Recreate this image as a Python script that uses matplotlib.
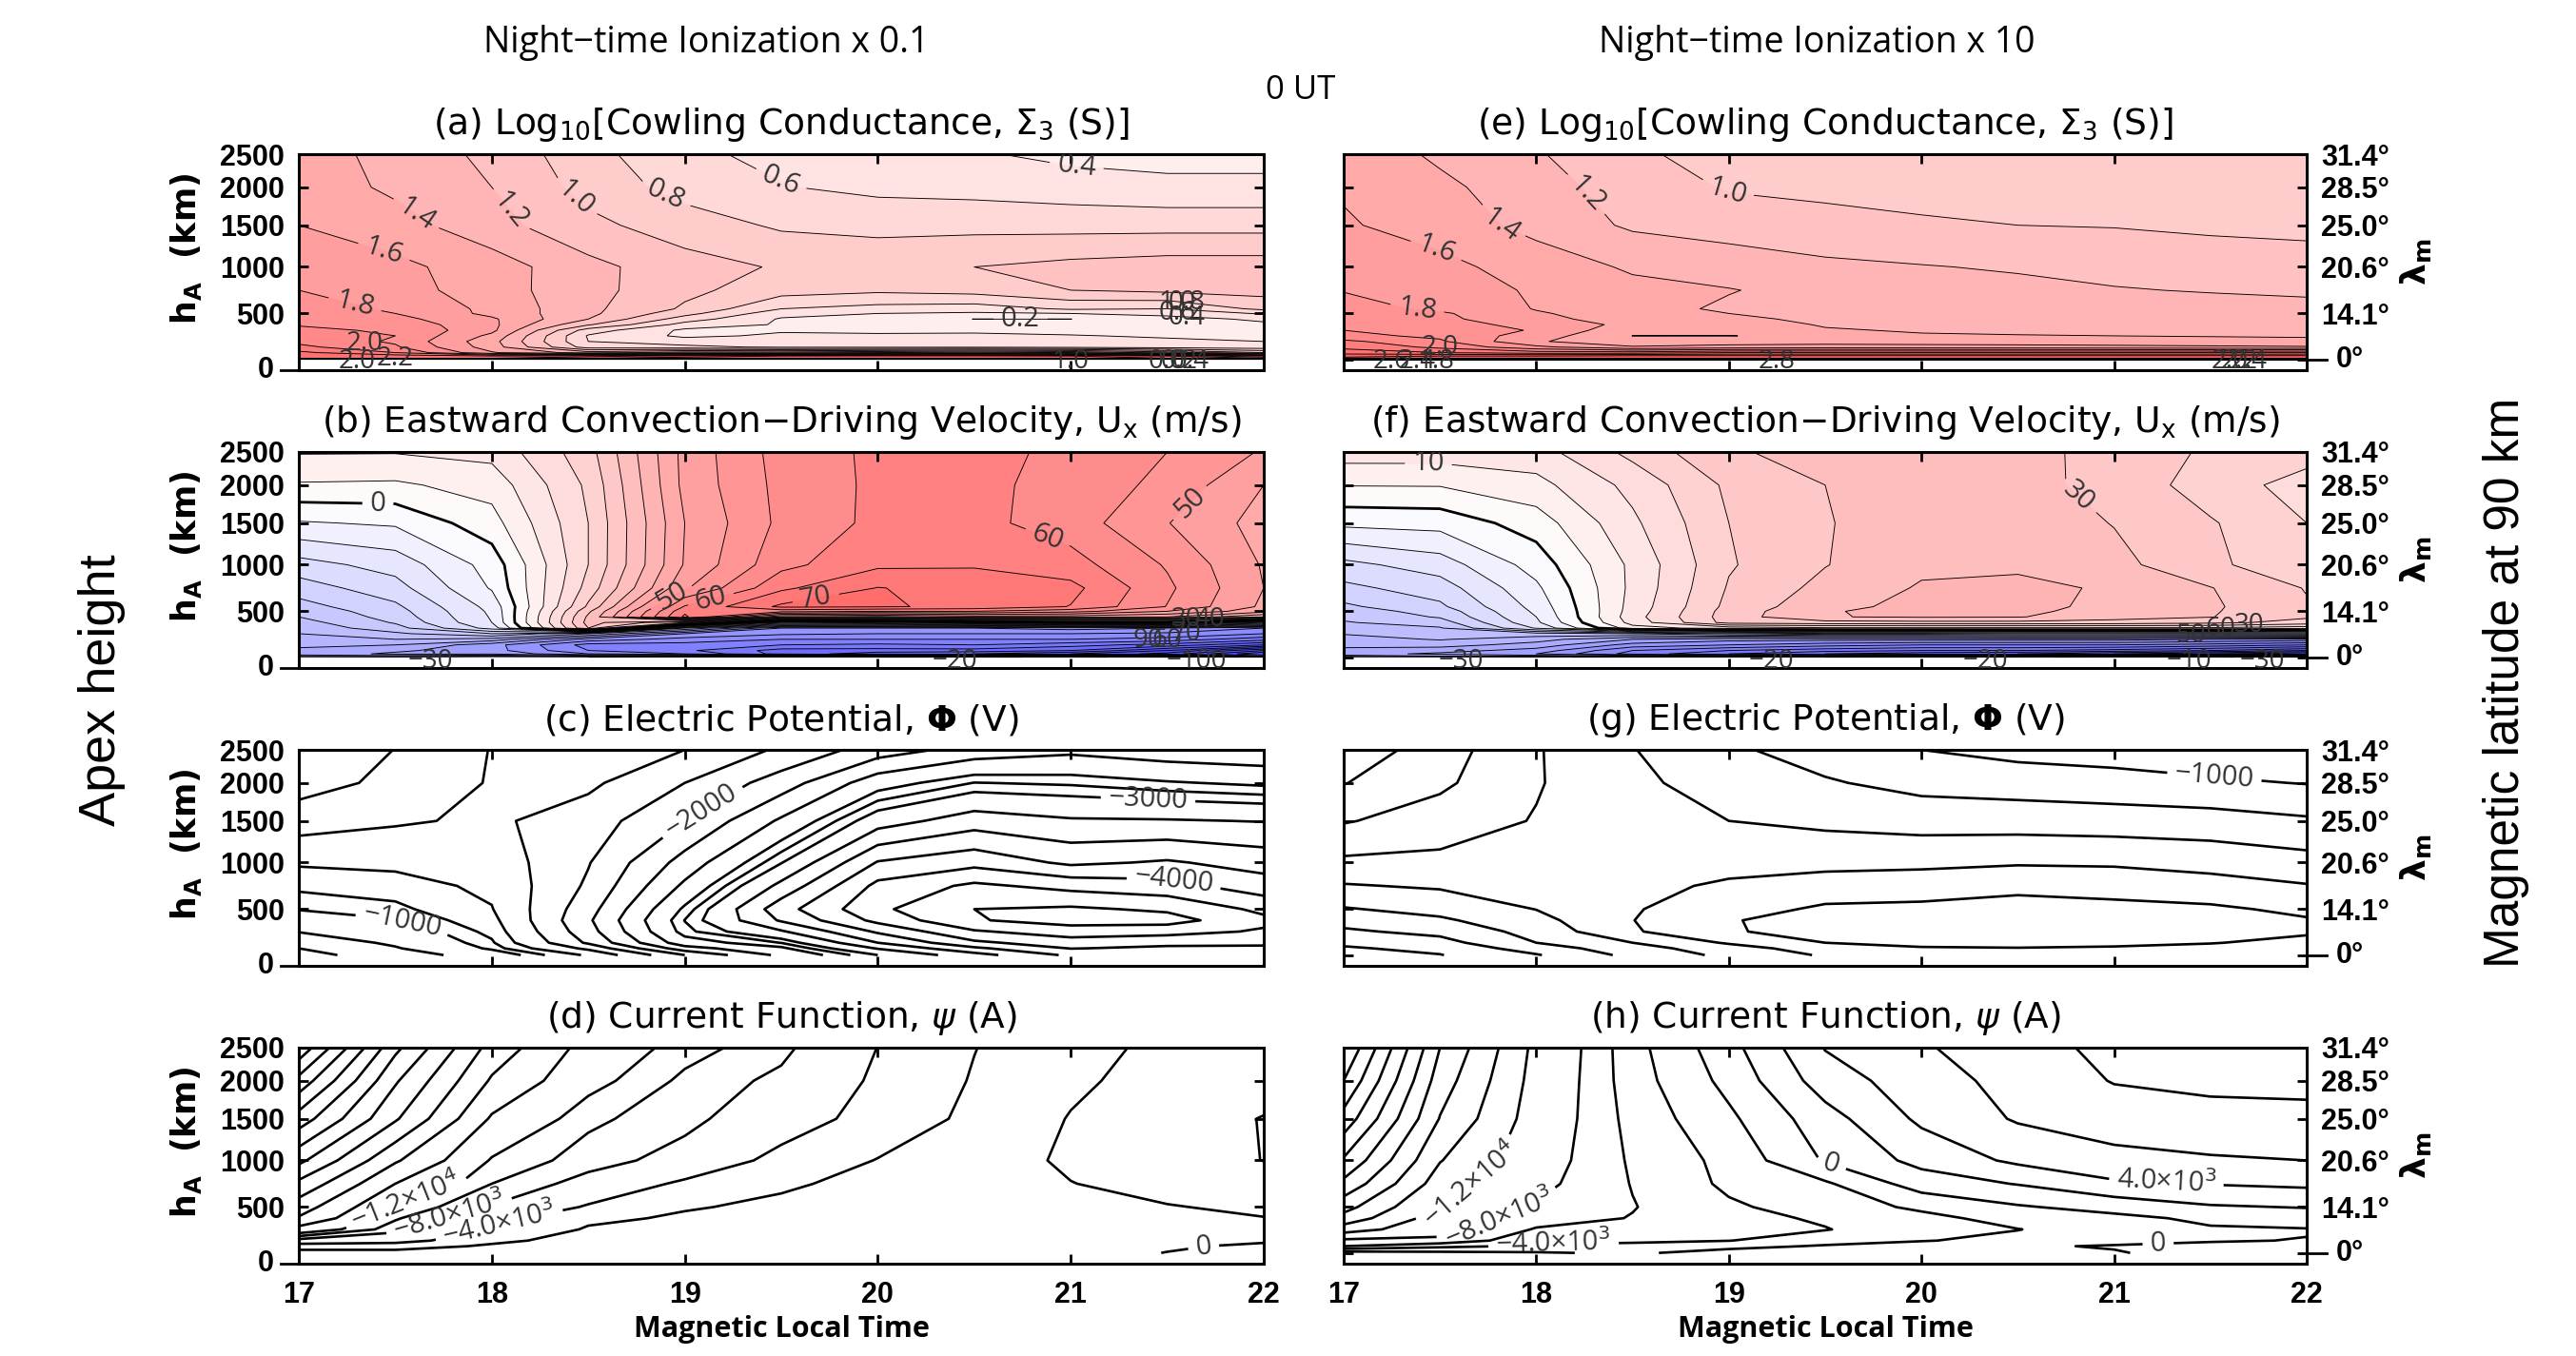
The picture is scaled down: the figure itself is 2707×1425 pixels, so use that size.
import numpy as np
import matplotlib
matplotlib.use('Agg')
import matplotlib.pyplot as plt
from matplotlib.colors import LinearSegmentedColormap

plt.rcParams['font.family'] = ['Open Sans', 'DejaVu Sans']
plt.rcParams['mathtext.fontset'] = 'dejavusans'

# model grid
mlt = [17, 17.5, 18, 18.5, 19, 19.5, 20, 20.5, 21, 21.5, 22]
hgt_fine = [90, 100, 120, 150, 200, 250, 300, 350, 400, 450, 500, 550, 750, 1000, 1500, 2000, 2500]
hgt_coarse = [90, 150, 200, 300, 400, 500, 750, 1000, 1500, 2000, 2500]

# height ticks and where they sit on the axis (0-1 from the bottom)
height_ticks = [0, 90, 500, 1000, 1500, 2000, 2500]
height_frac = [0, 0.05, 0.2625, 0.478, 0.671, 0.847, 1]
lat_labels = ['14.1°', '20.6°', '25.0°', '28.5°', '31.4°']

# (a) log10 cowling conductance, ionization x 0.1
sigma_low = [
    [.2, .2, .2, .2, .2, .2, .2, .2, .2, .2, .2],
    [2.6, 2.6, 2.6, 2.8, 2.9, 2.9, 2.9, 2.9, 2.9, 2.8, 2.6],
    [2.6, 2.5, 2.4, 2.5, 2.7, 2.8, 2.85, 2.85, 2.8, 2.6, 2.2],
    [2.45, 2.2, 1.62, 1.3, 1.5, 1.5, 1.6, 1.7, 1.6, 1.3, 1.0],
    [2.25, 2.03, 1.5, .7, .65, .57, .56, .56, .54, .5, .47],
    [2.15, 1.97, 1.47, .6, .5, .46, .46, .47, .46, .43, .4],
    [2.1, 2.0, 1.55, .58, .36, .43, .43, .43, .41, .38, .33],
    [2.03, 1.98, 1.65, .7, .36, .38, .36, .37, .35, .33, .32],
    [1.99, 1.93, 1.65, 1.02, .52, .38, .3, .3, .28, .28, .35],
    [1.95, 1.86, 1.63, 1.2, .7, .38, .25, .199, .199, .3, .45],
    [1.92, 1.8, 1.55, 1.25, .87, .47, .4, .37, .4, .48, .62],
    [1.89, 1.77, 1.55, 1.25, .97, .6, .53, .5, .63, .6, .85],
    [1.8, 1.69, 1.49, 1.27, 1.05, .89, .84, .88, 1.0, 1.05, 1.08],
    [1.72, 1.65, 1.5, 1.26, 1.08, .98, .94, 1.0, 1.06, 1.1, 1.1],
    [1.6, 1.48, 1.27, 1.05, .9, .77, .74, .74, .73, .73, .73],
    [1.52, 1.36, 1.2, .93, .72, .61, .55, .53, .49, .45, .45],
    [1.5, 1.33, 1.15, .87, .64, .55, .47, .42, .35, .33, .33],
]

# (e) log10 cowling conductance, ionization x 10
sigma_high = [
    [.4, .4, .4, .4, .4, .4, .4, .4, .4, .4, .4],
    [2.85, 2.85, 2.85, 2.85, 2.85, 2.85, 2.85, 2.85, 2.85, 2.85, 2.85],
    [2.75, 2.8, 2.8, 2.85, 2.85, 2.85, 2.85, 2.85, 2.85, 2.85, 2.85],
    [2.5, 2.4, 2.3, 2.3, 2.4, 2.4, 2.4, 2.4, 2.4, 2.4, 2.4],
    [2.35, 2.15, 1.85, 1.62, 1.68, 1.7, 1.69, 1.68, 1.66, 1.64, 1.62],
    [2.25, 2.03, 1.62, 1.47, 1.48, 1.5, 1.49, 1.48, 1.47, 1.46, 1.45],
    [2.05, 1.96, 1.7, 1.398, 1.398, 1.42, 1.41, 1.405, 1.4, 1.39, 1.38],
    [2.0, 1.93, 1.78, 1.45, 1.44, 1.41, 1.39, 1.38, 1.37, 1.36, 1.35],
    [1.97, 1.9, 1.72, 1.55, 1.46, 1.39, 1.36, 1.35, 1.34, 1.33, 1.32],
    [1.95, 1.85, 1.65, 1.52, 1.43, 1.37, 1.34, 1.33, 1.32, 1.31, 1.3],
    [1.9, 1.83, 1.62, 1.5, 1.4, 1.35, 1.32, 1.31, 1.3, 1.28, 1.27],
    [1.88, 1.76, 1.59, 1.47, 1.37, 1.33, 1.31, 1.29, 1.27, 1.26, 1.25],
    [1.79, 1.72, 1.57, 1.46, 1.41, 1.33, 1.28, 1.25, 1.21, 1.19, 1.17],
    [1.73, 1.65, 1.52, 1.37, 1.3, 1.24, 1.21, 1.18, 1.15, 1.12, 1.1],
    [1.62, 1.52, 1.33, 1.17, 1.12, 1.07, 1.03, 1.0, .99, .96, .94],
    [1.58, 1.45, 1.27, 1.12, .98, .95, .92, .9, .88, .87, .86],
    [1.55, 1.36, 1.22, 1.03, .93, .9, .88, .87, .86, .85, .85],
]

# (b) eastward velocity, one list per mlt column
ux_low = np.array([
    [-25, -38, -42, -41, -39, -37, -35, -33.5, -32, -30, -28.5, -27, -22.5, -17, -5.5, 4.5, 10.4],
    [-28, -38, -46, -44, -40, -35, -31, -27, -24.5, -23, -22, -21, -17, -13, -4.3, 4.2, 10.3],
    [-25, -35, -46, -48, -48, -37, -25, -13, -10, -9.5, -9, -8.3, -4.5, -3, 3, 7, 11.6],
    [-25, -40, -55, -60, -62, -52, -35, 30, 32, 31, 29, 26, 22, 20, 20, 21, 23],
    [-22, -40, -60, -64, -62, -57, -50, -30, 20, 66, 64, 60.5, 49.3, 45.5, 45, 46.5, 46.7],
    [-20, -45, -72, -72, -65, -60, -54, -50, -15, 40, 62, 71, 64, 58.5, 56.2, 56.5, 57],
    [-20, -50, -78, -72, -66, -60, -55, -50, -12, 38, 60, 70.5, 70.2, 64, 61.2, 61, 61],
    [-18, -50, -80, -72, -65, -60, -55, -50, -5, 42, 60, 69, 68, 64.5, 61.5, 61.3, 62],
    [-22, -55, -85, -75, -68, -60, -55, -48, 0, 42, 57, 64.8, 66.5, 62, 57.5, 58.2, 58.5],
    [-30, -70, -92, -85, -72, -62, -56, -50, 0, 40, 50, 54.8, 56, 54.5, 50.2, 53.6, 55],
    [-50, -100, -110, -100, -80, -68, -60, -55, -20, 30, 42, 44, 45, 44.5, 43, 45, 49.5],
]).T

# (f) eastward velocity, one list per mlt column
ux_high = np.array([
    [-25, -38, -43, -41, -39, -37, -34.7, -32.5, -30.4, -29, -27.5, -26, -21.3, -16.5, -3.8, 5.2, 12.5],
    [-25, -40, -46, -43, -38, -34.6, -32.5, -30.5, -27.5, -24.5, -23, -21, -17.5, -12.5, -3.2, 5.3, 12.5],
    [-28, -42, -50, -47, -42, -38, -32, -14.5, -11, -10, -9, -8.3, -6, -2.9, 2.4, 8.4, 13],
    [-20, -45, -62, -60, -52, -45, -30, 8, 12, 13, 12.3, 12, 11.3, 11.2, 14, 16.5, 21.5],
    [-20, -50, -70, -65, -55, -48, -25, 12, 27, 27.5, 27.2, 26.5, 25.5, 24.5, 25, 26, 29.5],
    [-20, -55, -75, -68, -58, -48, -22, 14, 28, 34.8, 34.6, 33.5, 31.5, 29.8, 29.6, 30, 31.5],
    [-18, -55, -78, -70, -60, -48, -22, 14, 28.5, 35.5, 36.5, 36.5, 35.5, 34, 33.5, 32, 33],
    [-18, -55, -80, -70, -60, -48, -20, 14, 28.5, 35.3, 36.2, 37, 36, 34.3, 33, 31.5, 32],
    [-10, -55, -85, -72, -60, -48, -20, 14, 28, 32, 33, 33.3, 34.5, 31.5, 29.8, 28.5, 27.9],
    [-10, -60, -90, -75, -62, -50, -20, 14, 26.5, 30.2, 30.5, 30.8, 30.2, 26.2, 25.5, 22.5, 24.3],
    [-30, -70, -95, -80, -65, -52, -20, 12, 23, 25.7, 26, 25.5, 24.7, 21, 20, 18, 22],
]).T

# (c) electric potential, one list per mlt column
phi_low = np.array([
    [-420, -500, -600, -760, -890, -1010, -1130, -1275, -1625, -1850, -1950],
    [-620, -730, -790, -880, -990, -1065, -1170, -1300, -1530, -1690, -1745],
    [-880, -1030, -1080, -1140, -1190, -1240, -1295, -1355, -1460, -1480, -1490],
    [-1280, -1560, -1790, -1900, -1960, -1900, -1790, -1735, -1620, -1450, -1290],
    [-2000, -2400, -2650, -2830, -2880, -2790, -2550, -2350, -2000, -1750, -1500],
    [-2560, -2710, -2880, -3220, -3530, -3650, -3320, -2990, -2540, -2120, -1790],
    [-3000, -3270, -3500, -3790, -4070, -4200, -4070, -3770, -3130, -2650, -2120],
    [-3400, -3700, -3950, -4220, -4480, -4500, -4300, -3920, -3380, -2880, -2350],
    [-3800, -4010, -4130, -4380, -4600, -4540, -4170, -3700, -3280, -2850, -2440],
    [-3800, -3950, -4070, -4340, -4600, -4460, -4090, -3780, -3270, -2770, -2350],
    [-3800, -3960, -4040, -4220, -4310, -4190, -3860, -3650, -3240, -2710, -2300],
]).T
phi_low_levels = [-4500, -4250, -4000, -3750, -3500, -3250, -3000, -2875, -2750, -2500, -2250, -2000,
                  -1750, -1500, -1250, -1100, -1000, -750, -500]

# (g) electric potential, one list per mlt column
phi_high = np.array([
    [-650, -720, -800, -960, -1090, -1230, -1480, -1700, -2020, -2260, -2420],
    [-740, -820, -910, -1070, -1210, -1330, -1530, -1690, -1880, -2050, -2120],
    [-980, -1120, -1250, -1340, -1420, -1505, -1565, -1625, -1735, -1770, -1770],
    [-1320, -1400, -1500, -1720, -1745, -1730, -1680, -1630, -1600, -1550, -1510],
    [-1560, -1640, -1780, -1985, -1985, -1900, -1790, -1660, -1500, -1395, -1290],
    [-1780, -1880, -2000, -2060, -2090, -2040, -1860, -1680, -1445, -1275, -1140],
    [-1860, -1980, -2060, -2110, -2110, -2050, -1895, -1690, -1400, -1170, -1000],
    [-1900, -1990, -2080, -2240, -2230, -2090, -1940, -1725, -1390, -1135, -920],
    [-1890, -1980, -2040, -2130, -2120, -2060, -1915, -1715, -1370, -1100, -880],
    [-1860, -1940, -2010, -2090, -2090, -2040, -1850, -1660, -1355, -1040, -830],
    [-1810, -1880, -1940, -2030, -2020, -1950, -1765, -1590, -1285, -990, -780],
]).T
phi_high_levels = [-2250, -2000, -1750, -1500, -1250, -1000, -750]

# (d) current function, one list per mlt column
psi_low = np.array([
    [1500, -1800, -7000, -14500, -19600, -22000, -27000, -33000, -42200, -50700, -59000],
    [1000, -1200, -6000, -8800, -10300, -11800, -16000, -20500, -28500, -32500, -37000],
    [1200, 400, -600, -3700, -5500, -7800, -10000, -11700, -15500, -19500, -22500],
    [1500, 1200, 1000, 400, -800, -3600, -7000, -9000, -10500, -13000, -14500],
    [1500, 1400, 1300, 1000, 500, -300, -3300, -7000, -8700, -9500, -10900],
    [1700, 1600, 1500, 1300, 1000, 700, -500, -2800, -6000, -7400, -8700],
    [1900, 1900, 1900, 1800, 1600, 1400, 1000, 150, -2500, -3400, -3950],
    [2300, 2300, 2300, 2300, 2300, 2300, 2200, 1800, 900, 300, -100],
    [1500, 2000, 2500, 3000, 3200, 3400, 3900, 4700, 4200, 3300, 2850],
    [-100, 500, 1400, 2500, 3300, 3800, 5400, 6700, 6800, 5500, 4800],
    [-1500, -700, 500, 2500, 3900, 4700, 6200, 8050, 8100, 7000, 6300],
]).T
psi_low_levels = [-56000, -52000, -48000, -44000, -40000, -36000, -32000, -28000, -24000, -20000, -16000,
                  -12000, -10000, -8000, -4000, 0, 4000, 8000]

# (h) current function, one list per mlt column
psi_high = np.array([
    [-1000, -6000, -7200, -14000, -18500, -21500, -27000, -31500, -38500, -44000, -48000],
    [-1500, -4500, -7500, -9000, -10000, -11200, -14000, -16200, -19800, -22000, -24000],
    [-1800, -3700, -4600, -5800, -7000, -7800, -8700, -9300, -10000, -10500, -10900],
    [-2300, -3400, -4400, -4800, -5900, -6100, -5900, -5700, -5300, -4900, -4700],
    [-1200, -2600, -4050, -4600, -4700, -4300, -3600, -3400, -2400, -1400, -700],
    [-700, -1800, -2800, -4100, -3700, -3100, -2300, 200, 1200, 3000, 4100],
    [-500, -1200, -2100, -2700, -2600, -1600, 1000, 2600, 4400, 5100, 5800],
    [-300, -150, -1500, -2050, -1200, -200, 2100, 4400, 6200, 6700, 7100],
    [-100, 100, -400, -1000, -500, 700, 3700, 5400, 7000, 8100, 8600],
    [500, 300, -100, -200, 400, 1800, 4100, 5800, 7300, 8500, 9500],
    [900, 700, 50, -100, 1000, 2100, 4400, 6000, 7400, 8600, 9500],
]).T
psi_high_levels = [-48000, -44000, -40000, -36000, -32000, -28000, -24000, -20000, -16000, -12000, -8000,
                   -6000, -4000, -2000, 0, 2000, 4000, 6000, 8000]

sigma_levels = [.2, .4, .6, .8, 1.0, 1.2, 1.4, 1.6, 1.8, 2.0, 2.2, 2.4, 2.6, 2.8, 3.0]
ux_levels = list(range(-120, 76, 5))

bwr_soft = LinearSegmentedColormap.from_list(
    'bwr_soft', [(85 / 255, 85 / 255, 1), (1, 1, 1), (1, 85 / 255, 85 / 255)])

W, H = 2707, 1425
fig = plt.figure(figsize=(W / 100, H / 100), dpi=100)
TICK_FONT = dict(fontsize=22, fontweight='bold', family='Liberation Sans')


def to_frac(h):
    return np.interp(h, height_ticks, height_frac)


def from_frac(f):
    return np.interp(f, height_frac, height_ticks)


def make_axes(left, top, right, bottom, title, is_left, is_bottom):
    ax = fig.add_axes([left / W, 1 - bottom / H, (right - left) / W, (bottom - top) / H])
    ax.set_yscale('function', functions=(to_frac, from_frac))
    ax.set_xlim(17, 22)
    ax.set_ylim(0, 2500)
    ax.set_xticks(mlt[::2])
    ax.minorticks_off()
    ax.tick_params(axis='both', direction='in', top=True, right=True, length=7, width=2, pad=11)
    if is_left:
        ax.set_yticks([0, 500, 1000, 1500, 2000, 2500])
        ax.set_yticklabels(['', '500', '1000', '1500', '2000', '2500'], **TICK_FONT)
        ax.plot([-0.019, 0], [0, 0], transform=ax.transAxes, color='k', lw=2, clip_on=False)
        ax.text(-0.026, 0, '0', transform=ax.transAxes, ha='right', va='center', **TICK_FONT)
    else:
        ax.set_yticks(height_ticks[1:])
        ax.set_yticklabels([''] + lat_labels, **TICK_FONT)
        ax.tick_params(axis='y', labelleft=False, labelright=True)
        ax.plot([1, 1.021], [0.05, 0.05], transform=ax.transAxes, color='k', lw=2, clip_on=False)
        ax.text(1.03, 0.05, '0°', transform=ax.transAxes, ha='left', va='center', **TICK_FONT)
    if is_bottom:
        ax.set_xticklabels(['17', '18', '19', '20', '21', '22'], **TICK_FONT)
        ax.tick_params(axis='x', pad=13)
    else:
        ax.tick_params(axis='x', labelbottom=False)
    for sp in ax.spines.values():
        sp.set_linewidth(2.2)
    ax.text(0.5, 1.135, title, transform=ax.transAxes, ha='center', va='center', fontsize=27,
            family='DejaVu Sans')
    if is_left:
        ax.text(-0.117, 0.56, 'h$_{\\mathbf{A}}$  (km)', transform=ax.transAxes, rotation=90, ha='center',
                va='center', fontsize=25, fontweight='bold', family='DejaVu Sans')
    else:
        ax.text(1.113, 0.5, '$\\mathbf{\\lambda_m}$', transform=ax.transAxes, rotation=90, ha='center',
                va='center', fontsize=26, fontweight='bold', family='DejaVu Sans')
    return ax


def draw_contours(ax, data, hgt, levels, labels, lw):
    # clabel only finds the right line if each labelled level is its own contour set
    labelled = []
    for item in labels:
        if item[0] not in labelled:
            labelled.append(item[0])
    plain = [v for v in levels if v not in labelled]
    if plain:
        widths = [2.0 if v == 0 and lw < 1 else lw for v in plain]
        ax.contour(mlt, hgt, data, levels=plain, colors='k', linewidths=widths, linestyles='solid')
    for v in labelled:
        width = 2.0 if v == 0 and lw < 1 else lw
        cs = ax.contour(mlt, hgt, data, levels=[v], colors='k', linewidths=width, linestyles='solid')
        spots = [(i[1], i[2]) for i in labels if i[0] == v]
        txt = [i[3] for i in labels if i[0] == v][0]
        cs.clabel(levels=[v], fmt=lambda val, t=txt: t, manual=spots, inline=True, fontsize=21, colors='#333333',
                  inline_spacing=8)


def draw_filled(ax, data, hgt, levels, vmax):
    ax.contourf(mlt, hgt, data, levels=levels, cmap=bwr_soft, vmin=-vmax, vmax=vmax, extend='both')


def add_text(ax, items):
    for x, y, txt in items:
        ax.text(x, y, txt, fontsize=20, color='#333333', ha='center', va='center')


left_box = (314, 1328)
right_box = (1412, 2424)
tops = [(162, 389), (475, 702), (788, 1015), (1101, 1328)]
titles = [
    '{} Log$_{{\\mathrm{{10}}}}$[Cowling Conductance, $\\Sigma_3$ (S)]',
    '{} Eastward Convection\u2212Driving Velocity, U$_{{\\mathrm{{x}}}}$ (m/s)',
    '{} Electric Potential, $\\mathbf{{\\Phi}}$ (V)',
    '{} Current Function, $\\psi$ (A)',
]

ax_a = make_axes(left_box[0], tops[0][0], left_box[1], tops[0][1], titles[0].format('(a)'), True, False)
ax_b = make_axes(left_box[0], tops[1][0], left_box[1], tops[1][1], titles[1].format('(b)'), True, False)
ax_c = make_axes(left_box[0], tops[2][0], left_box[1], tops[2][1], titles[2].format('(c)'), True, False)
ax_d = make_axes(left_box[0], tops[3][0], left_box[1], tops[3][1], titles[3].format('(d)'), True, True)
ax_e = make_axes(right_box[0], tops[0][0], right_box[1], tops[0][1], titles[0].format('(e)'), False, False)
ax_f = make_axes(right_box[0], tops[1][0], right_box[1], tops[1][1], titles[1].format('(f)'), False, False)
ax_g = make_axes(right_box[0], tops[2][0], right_box[1], tops[2][1], titles[2].format('(g)'), False, False)
ax_h = make_axes(right_box[0], tops[3][0], right_box[1], tops[3][1], titles[3].format('(h)'), False, True)

draw_filled(ax_a, sigma_low, hgt_fine, sigma_levels, 3.0)
draw_filled(ax_e, sigma_high, hgt_fine, sigma_levels, 3.0)
draw_filled(ax_b, ux_low, hgt_fine, ux_levels, 85)
draw_filled(ax_f, ux_high, hgt_fine, ux_levels, 85)

THIN = 0.65
draw_contours(ax_a, sigma_low, hgt_fine, sigma_levels,
              [(.4, 21.03, 2310, '0.4'), (.6, 19.48, 2000, '0.6'), (.8, 18.87, 1730, '0.8'), (1.0, 18.42, 1820, '1.0'),
               (1.2, 18.07, 1640, '1.2'), (1.4, 17.6, 1620, '1.4'), (1.6, 17.43, 1100, '1.6'), (1.8, 17.28, 510, '1.8'),
               (.2, 20.74, 450, '0.2')], THIN)
add_text(ax_a, [(17.34, 230, '2.0'), (17.3, 75, '2.0'), (17.5, 95, '2.2'), (21.0, 75, '1.0'),
                (21.55, 620, '1.0'), (21.6, 620, '0.8'), (21.55, 500, '0.6'), (21.6, 460, '0.4'),
                (21.5, 70, '0.0'), (21.56, 70, '0.2'), (21.62, 70, '0.4')])
draw_contours(ax_e, sigma_high, hgt_fine, sigma_levels,
              [(1.0, 18.99, 1935, '1.0'), (1.2, 18.22, 1820, '1.2'), (1.4, 17.8, 1470, '1.4'), (1.6, 17.47, 1130, '1.6'),
               (1.8, 17.38, 510, '1.8')], THIN)
add_text(ax_e, [(17.5, 200, '2.0'), (17.25, 70, '2.6'), (17.38, 70, '2.4'), (17.48, 70, '1.8'), (19.25, 70, '2.8'),
                (21.6, 70, '2.0'), (21.65, 70, '2.2'), (21.7, 70, '2.4')])
draw_contours(ax_b, ux_low, hgt_fine, ux_levels,
              [(0, 17.41, 1820, '0'), (50, 18.94, 620, '50'), (60, 19.14, 590, '60'), (70, 19.68, 630, '70'),
               (60, 20.87, 1270, '60'), (50, 21.62, 1760, '50')], THIN)
add_text(ax_b, [(17.68, 55, '\u221230'), (20.4, 55, '\u221220'), (21.65, 55, '\u2212100'), (21.4, 240, '90'),
                (21.5, 240, '60'), (21.6, 300, '70'), (21.6, 430, '30'), (21.72, 430, '40')])
draw_contours(ax_f, ux_high, hgt_fine, ux_levels, [(10, 17.44, 2370, '10'), (30, 20.85, 1940, '30')], THIN)
add_text(ax_f, [(17.61, 55, '\u221230'), (19.22, 55, '\u221220'), (20.33, 55, '\u221220'), (21.39, 55, '\u221210'),
                (21.77, 55, '\u221230'), (21.4, 280, '50'), (21.55, 340, '60'), (21.7, 380, '30')])
draw_contours(ax_c, phi_low, hgt_coarse, phi_low_levels,
              [(-1000, 17.52, 290, '\u22121000'), (-2000, 19.09, 1620, '\u22122000'),
               (-3000, 21.4, 1745, '\u22123000'), (-4000, 21.53, 760, '\u22124000')], 1.9)
draw_contours(ax_g, phi_high, hgt_coarse, phi_high_levels, [(-1000, 21.52, 2070, '\u22121000')], 1.9)
draw_contours(ax_d, psi_low, hgt_coarse, psi_low_levels,
              [(-12000, 17.56, 520, '\u22121.2\u00d710$^{\\mathrm{4}}$'),
               (-8000, 17.78, 410, '\u22128.0\u00d710$^{\\mathrm{3}}$'),
               (-4000, 18.05, 275, '\u22124.0\u00d710$^{\\mathrm{3}}$'), (0, 21.69, 125, '0')], 1.9)
draw_contours(ax_h, psi_high, hgt_coarse, psi_high_levels,
              [(-12000, 17.63, 890, '\u22121.2\u00d710$^{\\mathrm{4}}$'),
               (-8000, 17.8, 430, '\u22128.0\u00d710$^{\\mathrm{3}}$'),
               (-4000, 18.09, 150, '\u22124.0\u00d710$^{\\mathrm{3}}$'), (0, 19.52, 890, '0'),
               (4000, 21.27, 720, '4.0\u00d710$^{\\mathrm{3}}$'), (0, 21.23, 110, '0')], 1.9)

ax_d.set_xlabel('Magnetic Local Time', fontsize=22, fontweight='bold', labelpad=4)
ax_h.set_xlabel('Magnetic Local Time', fontsize=22, fontweight='bold', labelpad=4)

fig.text(742 / W, 1 - 45 / H, 'Night\u2212time Ionization x 0.1', fontsize=27, ha='center', va='center')
fig.text(1909 / W, 1 - 45 / H, 'Night\u2212time Ionization x 10', fontsize=27, ha='center', va='center')
fig.text(1367 / W, 1 - 95 / H, '0 UT', fontsize=25, ha='center', va='center')
fig.text(107 / W, 1 - 725 / H, 'Apex height', fontsize=39, rotation=90, ha='center', va='center',
         family='Liberation Sans')
fig.text(2633 / W, 1 - 717 / H, 'Magnetic latitude at 90 km', fontsize=37, rotation=90, ha='center', va='center',
         family='Liberation Sans')

fig.savefig('out.png', dpi=100)
